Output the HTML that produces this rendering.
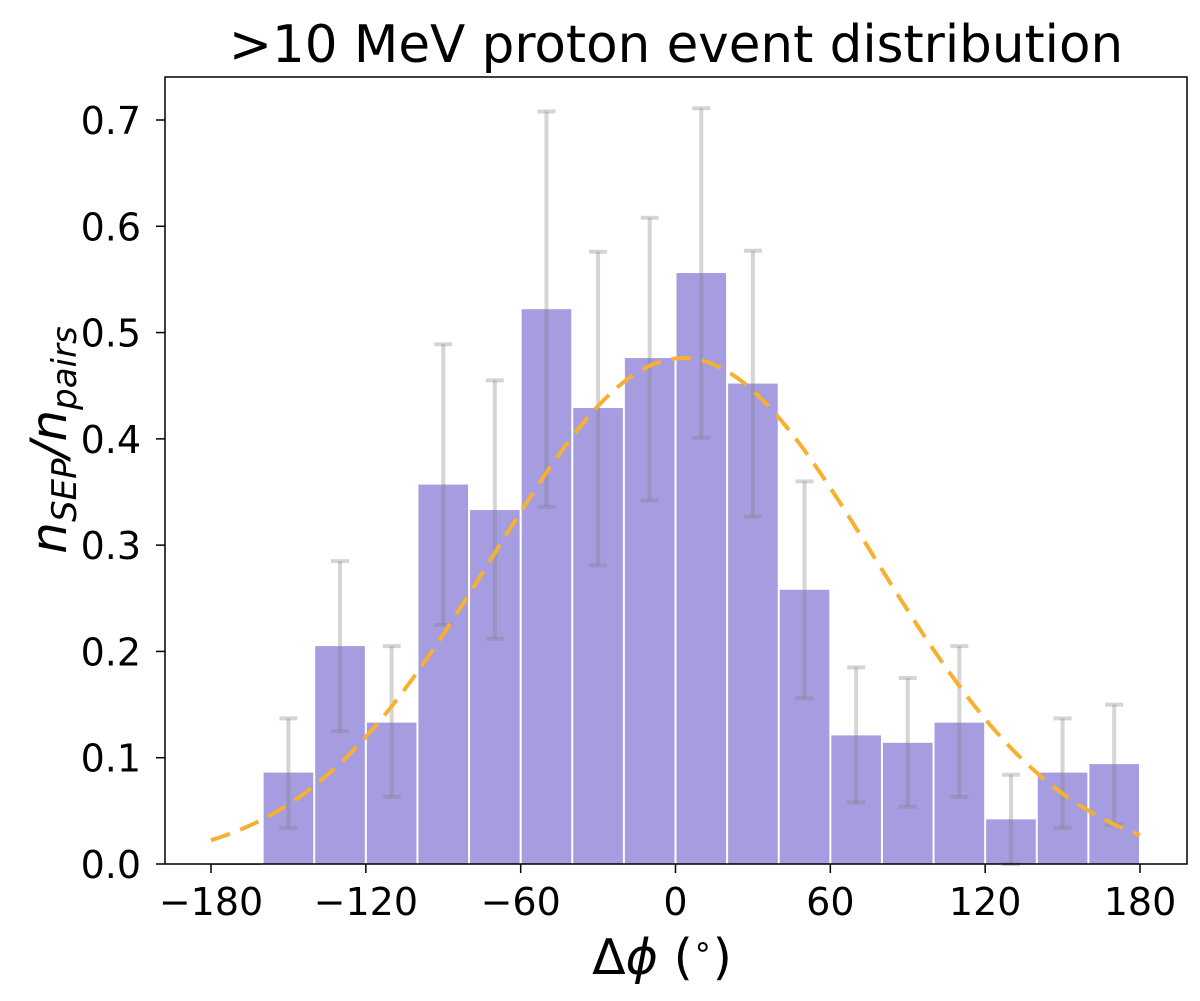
<!DOCTYPE html>
<html><head><meta charset="utf-8"><style>
body{margin:0;background:#fff;}
svg text{font-family:"DejaVu Sans","Liberation Sans",sans-serif;fill:#000;}
</style></head><body>
<svg id="chart" width="1200" height="996" xmlns="http://www.w3.org/2000/svg">
<rect width="1200" height="996" fill="#fff"/>
<text x="676" y="62" font-size="51.5" text-anchor="middle">&gt;10 MeV proton event distribution</text>
<g id="bars"></g>
<g id="errs"></g>
<path id="fit" fill="none" stroke="#f7b030" stroke-width="4" stroke-dasharray="20,11"/>
<rect x="165" y="77" width="1022" height="787" fill="none" stroke="#000" stroke-width="1.5"/>
<g id="xt"></g>
<g id="yt"></g>
<text x="662" y="974" font-size="49" text-anchor="middle">Δ<tspan font-style="italic">ϕ</tspan> (<tspan dy="-17" font-size="32">∘</tspan><tspan dy="17">)</tspan></text>
<text transform="translate(66,440) rotate(-90)" font-size="50" text-anchor="middle" font-style="italic">n<tspan font-size="34" dy="10">SEP</tspan><tspan dy="-10">/n</tspan><tspan font-size="34" dy="10">pairs</tspan></text>
</svg>
<script>
const binCenters=[-170,-150,-130,-110,-90,-70,-50,-30,-10,10,30,50,70,90,110,130,150,170];
const values=[0,0.086,0.205,0.133,0.357,0.333,0.522,0.429,0.476,0.556,0.452,0.258,0.121,0.114,0.133,0.042,0.086,0.094];
const errUpper=[null,0.137,0.285,0.205,0.489,0.455,0.708,0.576,0.608,0.711,0.577,0.360,0.185,0.175,0.205,0.084,0.137,0.150];
const errLower=[null,0.034,0.125,0.063,0.225,0.212,0.336,0.281,0.342,0.401,0.327,0.156,0.058,0.054,0.063,0.0,0.034,0.037];
const fitAmplitude=0.476, fitMean=3, fitSigma=74;
const xTicks=[-180,-120,-60,0,60,120,180];
const yTicks=[0,0.1,0.2,0.3,0.4,0.5,0.6,0.7];
const binWidth=20;
const X=v=>211+(v+180)*(929/360);
const Y=v=>864-v*(744/0.7);
const NS="http://www.w3.org/2000/svg";
function mk(t,a,p){const e=document.createElementNS(NS,t);for(const k in a)e.setAttribute(k,a[k]);p.appendChild(e);return e;}
const bars=document.getElementById('bars'),errs=document.getElementById('errs');
binCenters.forEach((c,i)=>{
  const x0=X(c-binWidth/2),x1=X(c+binWidth/2);
  const r=mk('rect',{x:x0+1,y:Y(values[i]),width:x1-x0-2,height:Math.max(864-Y(values[i]),1),fill:'#a59de0'},bars);
  
  
  if(errUpper[i]!=null){
    const g=mk('g',{stroke:'#808080','stroke-opacity':'0.33','stroke-width':'4'},errs);
    
    
    const xc=X(c);
    mk('line',{x1:xc,x2:xc,y1:Y(errUpper[i]),y2:Y(errLower[i])},g);
    mk('line',{x1:xc-9,x2:xc+9,y1:Y(errUpper[i]),y2:Y(errUpper[i])},g);
    mk('line',{x1:xc-9,x2:xc+9,y1:Y(errLower[i]),y2:Y(errLower[i])},g);
  }
});
let d='';
for(let v=-180;v<=180;v+=2){const y=fitAmplitude*Math.exp(-((v-fitMean)**2)/(2*fitSigma*fitSigma));d+=(v==-180?'M':'L')+X(v).toFixed(1)+','+Y(y).toFixed(1);}
document.getElementById('fit').setAttribute('d',d);
const xt=document.getElementById('xt'),yt=document.getElementById('yt');
xTicks.forEach(t=>{
  mk('line',{x1:X(t),x2:X(t),y1:864,y2:873,stroke:'#000','stroke-width':1.5},xt);
  const tx=mk('text',{x:X(t),y:915,'font-size':38,'text-anchor':'middle'},xt);
  tx.textContent=(t<0?'\u2212'+(-t):t);
  
  
});
yTicks.forEach(t=>{
  mk('line',{x1:156,x2:165,y1:Y(t),y2:Y(t),stroke:'#000','stroke-width':1.5},yt);
  const tx=mk('text',{x:141,y:Y(t)+14,'font-size':38,'text-anchor':'end'},yt);
  tx.textContent=t.toFixed(1);
  
  
});
</script>
</body></html>
